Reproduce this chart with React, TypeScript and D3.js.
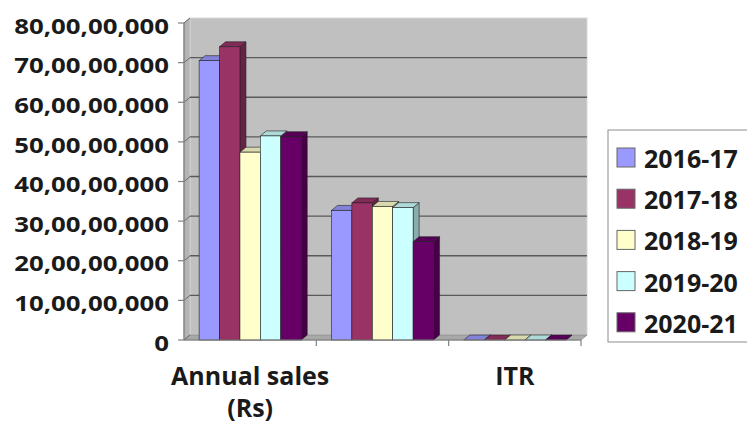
import { useEffect, useRef } from 'react';
import * as d3 from 'd3';

const CATEGORIES = ['Annual sales (Rs)', '', 'ITR'];
const SERIES = ['2016-17', '2017-18', '2018-19', '2019-20', '2020-21'];
const Y_TICKS = [0, 1e8, 2e8, 3e8, 4e8, 5e8, 6e8, 7e8, 8e8];

const values201617 = [705000000, 327000000, 0];
const values201718 = [740000000, 346000000, 0];
const values201819 = [474000000, 337000000, 0];
const values201920 = [515000000, 334000000, 0];
const values202021 = [513000000, 248000000, 0];

const COLORS = ['#9999ff', '#993366', '#ffffcc', '#ccffff', '#660066'];

// Indian digit grouping: 80,00,00,000
function fmtIndian(v: number) {
  const s = Math.round(v).toString();
  if (s.length <= 3) return s;
  const last3 = s.slice(-3);
  let rest = s.slice(0, -3);
  const parts: string[] = [];
  while (rest.length > 2) {
    parts.unshift(rest.slice(-2));
    rest = rest.slice(0, -2);
  }
  if (rest) parts.unshift(rest);
  return parts.join(',') + ',' + last3;
}

export default function App() {
  const ref = useRef<SVGSVGElement>(null);

  useEffect(() => {
    if (!ref.current) return;
    const svg = d3.select(ref.current);
    svg.selectAll('*').remove();

    const width = 747;
    const height = 427;
    const font = "'Open Sans', 'DejaVu Sans', sans-serif";
    const left = 184, right = 581, top = 23, bottom = 340;
    const dx = 6, dy = -5;

    svg.attr('width', width).attr('height', height);

    const series = [values201617, values201718, values201819, values201920, values202021];

    const y = d3.scaleLinear().domain([0, 8e8]).range([bottom, top]);
    const x0 = d3.scaleBand<string>().domain(CATEGORIES.map((c, i) => i + '')).range([left, right]).padding(0);
    const x1 = d3.scaleBand<string>().domain(SERIES).range([0, x0.bandwidth()]).paddingInner(0).paddingOuter(0.74);

    // walls
    svg.append('polygon')
      .attr('points', `${left},${bottom} ${left + dx},${bottom + dy} ${left + dx},${top + dy} ${left},${top}`)
      .attr('fill', '#b4b4b4').attr('stroke', '#9a9a9a').attr('stroke-width', 0.8);
    svg.append('rect')
      .attr('x', left + dx).attr('y', top + dy)
      .attr('width', right - left).attr('height', bottom - top)
      .attr('fill', '#c0c0c0').attr('stroke', '#d8d8d8').attr('stroke-width', 1);
    svg.append('polygon')
      .attr('points', `${left},${bottom} ${left + dx},${bottom + dy} ${right + dx},${bottom + dy} ${right},${bottom}`)
      .attr('fill', '#a8a8a8').attr('stroke', '#8a8a8a').attr('stroke-width', 0.8);

    // gridlines
    Y_TICKS.filter(t => t > 0 && t < 8e8).forEach(t => {
      svg.append('line')
        .attr('x1', left + dx).attr('x2', right + dx)
        .attr('y1', y(t) + dy).attr('y2', y(t) + dy)
        .attr('stroke', '#5a5a5a').attr('stroke-width', 1.3);
    });
    Y_TICKS.forEach(t => {
      svg.append('line')
        .attr('x1', left).attr('x2', left + dx)
        .attr('y1', y(t)).attr('y2', y(t) + dy)
        .attr('stroke', '#6a6a6a').attr('stroke-width', 1);
    });

    // bars (3D boxes)
    CATEGORIES.forEach((c, ci) => {
      SERIES.forEach((s, si) => {
        const v = series[si][ci];
        const bx = x0(ci + '')! + x1(s)!;
        const bw = x1.bandwidth();
        const by = y(v);
        const col = d3.color(COLORS[si])!;
        const topCol = col.darker(0.45).toString();
        const sideCol = col.darker(1.1).toString();
        const g = svg.append('g');
        g.append('polygon')
          .attr('points', `${bx + bw},${bottom} ${bx + bw + dx},${bottom + dy} ${bx + bw + dx},${by + dy} ${bx + bw},${by}`)
          .attr('fill', sideCol).attr('stroke', '#222').attr('stroke-width', 0.6);
        g.append('polygon')
          .attr('points', `${bx},${by} ${bx + dx},${by + dy} ${bx + bw + dx},${by + dy} ${bx + bw},${by}`)
          .attr('fill', topCol).attr('stroke', '#222').attr('stroke-width', 0.6);
        if (bottom - by > 0.5) {
          g.append('rect')
            .attr('x', bx).attr('y', by).attr('width', bw).attr('height', bottom - by)
            .attr('fill', COLORS[si]).attr('stroke', '#222').attr('stroke-width', 0.6);
        }
      });
    });

    // axes
    svg.append('line').attr('x1', left).attr('x2', left).attr('y1', top).attr('y2', bottom)
      .attr('stroke', '#808080').attr('stroke-width', 1.2);
    svg.append('line').attr('x1', left).attr('x2', right).attr('y1', bottom).attr('y2', bottom)
      .attr('stroke', '#808080').attr('stroke-width', 1.2);
    Y_TICKS.forEach(t => {
      svg.append('line').attr('x1', left - 6).attr('x2', left).attr('y1', y(t)).attr('y2', y(t))
        .attr('stroke', '#808080').attr('stroke-width', 1.2);
      svg.append('g')
        .attr('transform', `translate(${left - 15},${y(t) + 2.5}) scale(1.2,1)`)
        .append('text')
        .attr('text-anchor', 'end').attr('dominant-baseline', 'central')
        .attr('font-family', font).attr('font-weight', 'bold').attr('font-size', 21.5)
        .attr('fill', '#1a1a1a')
        .text(fmtIndian(t));
    });
    CATEGORIES.forEach((c, ci) => {
      const bx = x0(ci + '')!;
      svg.append('line').attr('x1', bx + x0.bandwidth()).attr('x2', bx + x0.bandwidth())
        .attr('y1', bottom).attr('y2', bottom + 6).attr('stroke', '#808080').attr('stroke-width', 1.2);
      if (!c) return;
      const t = svg.append('text')
        .attr('x', bx + x0.bandwidth() / 2).attr('y', 385)
        .attr('text-anchor', 'middle')
        .attr('font-family', font).attr('font-weight', 'bold').attr('font-size', 25)
        .attr('fill', '#1a1a1a');
      // simple word wrap
      const words = c.split(' ');
      let line: string[] = [];
      let tspan = t.append('tspan').attr('x', bx + x0.bandwidth() / 2).attr('dy', 0);
      words.forEach(w => {
        line.push(w);
        tspan.text(line.join(' '));
        if ((tspan.node() as SVGTSpanElement).getComputedTextLength() > 165 && line.length > 1) {
          line.pop();
          tspan.text(line.join(' '));
          line = [w];
          tspan = t.append('tspan').attr('x', bx + x0.bandwidth() / 2).attr('dy', 32).text(w);
        }
      });
    });

    // legend
    svg.append('rect').attr('x', 608).attr('y', 130).attr('width', 150).attr('height', 212)
      .attr('fill', '#fff').attr('stroke', '#8c8c8c').attr('stroke-width', 1);
    SERIES.forEach((s, i) => {
      const cy = 157 + i * 41.2;
      svg.append('rect').attr('x', 617).attr('y', cy - 9).attr('width', 18).attr('height', 19)
        .attr('fill', COLORS[i]).attr('stroke', '#666').attr('stroke-width', 1);
      svg.append('text').attr('x', 644).attr('y', cy + 1)
        .attr('dominant-baseline', 'central')
        .attr('font-family', font).attr('font-weight', 'bold').attr('font-size', 25)
        .attr('fill', '#1a1a1a').text(s);
    });
  }, []);

  return (
    <div style={{ position: 'absolute', left: 0, top: 0, background: '#fff' }}>
      <svg ref={ref} style={{ display: 'block' }} />
    </div>
  );
}
